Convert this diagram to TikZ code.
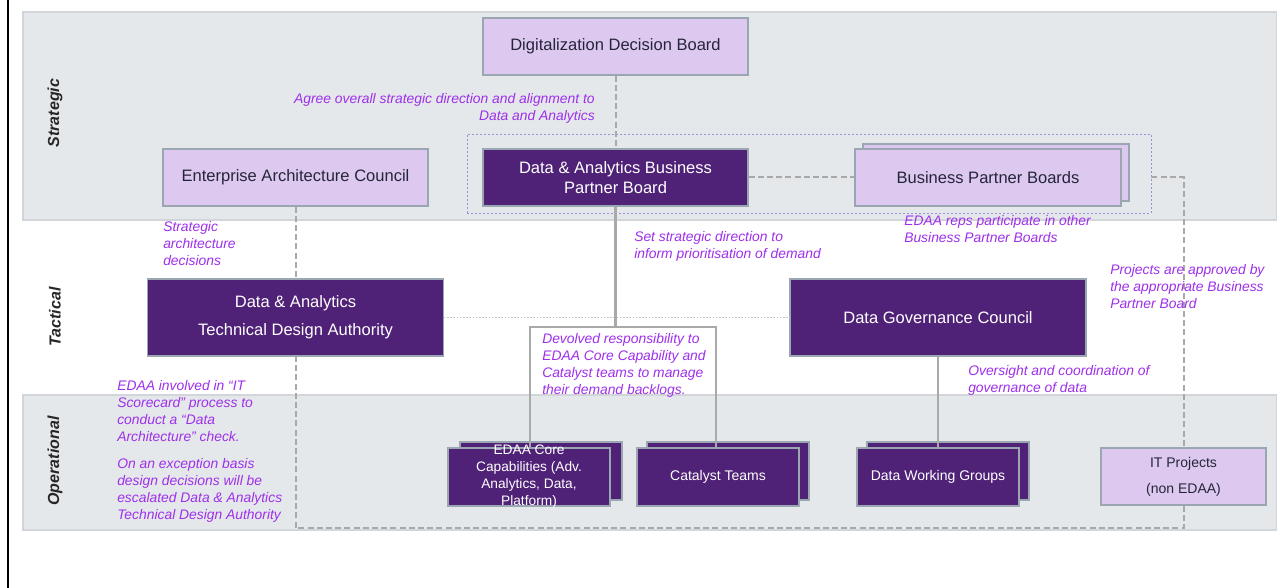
\documentclass[tikz,border=0pt]{standalone}
\usepackage{fontspec}
\setmainfont{Liberation Sans}
\definecolor{bandgray}{HTML}{E4E8EB}
\definecolor{bandline}{HTML}{D2D6DA}
\definecolor{plum}{HTML}{4F2177}
\definecolor{lavender}{HTML}{DDC9EF}
\definecolor{boxline}{HTML}{9AA6B2}
\definecolor{boxtext}{HTML}{25253A}
\definecolor{notecol}{HTML}{9E2FEA}
\definecolor{linkgray}{HTML}{A9A9A9}
\definecolor{groupline}{HTML}{9A90DC}
\definecolor{tiercol}{HTML}{262626}
\begin{document}
\begin{tikzpicture}[x=0.75pt,y=-0.75pt,
  box/.style={draw=boxline, line width=0.9pt, inner sep=0pt, align=center},
  lightbox/.style={box, fill=lavender, text=boxtext, font=\fontsize{12.4}{15}\selectfont},
  darkbox/.style={box, fill=plum, text=white, font=\fontsize{12.4}{15}\selectfont},
  bigbox/.style={minimum width=198.75pt, minimum height=42.75pt},
  wide/.style={minimum width=221.5pt, minimum height=57.75pt},
  opsbox/.style={darkbox, minimum width=121.5pt, minimum height=43.5pt, font=\fontsize{10.5}{12.75}\selectfont},
  note/.style={inner sep=0pt, align=left, text=notecol, font=\fontsize{10.4}{12.75}\selectfont\itshape},
  tier/.style={rotate=90, text=tiercol, font=\fontsize{12}{14}\selectfont\bfseries\itshape},
  dashlink/.style={draw=linkgray, line width=1.5pt, dash pattern=on 4.5pt off 2.4pt},
  solidlink/.style={draw=linkgray, line width=1.6pt},
  dotlink/.style={draw=linkgray!70, line width=1pt, dash pattern=on 1.2pt off 1.2pt},
  grouping/.style={draw=groupline, line width=0.6pt, dash pattern=on 1.5pt off 1.5pt}
]
\useasboundingbox (0,0) rectangle (1277,588);
\fill[white] (0,0) rectangle (1277,588);

% tier bands
\filldraw[fill=bandgray, draw=bandline, line width=0.8pt] (23,12) rectangle (1277,220);
\filldraw[fill=bandgray, draw=bandline, line width=0.8pt] (23,395) rectangle (1277,530);
\draw[black, line width=1.6pt] (8,0) -- (8,588);

\node[tier] (tstrat) at (55,113) {Strategic};
\node[tier] (ttact) at (55,317) {Tactical};
\node[tier] (toper) at (55,461) {Operational};

% grouping of partner boards
\node[grouping, minimum width=513pt, minimum height=59.25pt, inner sep=0pt] (bpgroup) at (809,173.5) {};

% strategic tier
\node[lightbox, bigbox] (ddb) at (615.5,46.5) {Digitalization Decision Board};
\node[lightbox, bigbox] (eac) at (295.5,177.5) {Enterprise Architecture Council};
\node[darkbox, bigbox] (dabpb) at (615.5,177.5) {Data \& Analytics Business\\Partner Board};
\node[lightbox, bigbox, minimum width=199.5pt] (bpbback) at (996,172.5) {};
\node[lightbox, bigbox, minimum width=199.5pt] (bpb) at (988,177.5) {Business Partner Boards};

% tactical tier
\node[darkbox, wide] (tda) at (295.5,317.5) {Data \& Analytics\\[6pt]Technical Design Authority};
\node[darkbox, wide, minimum width=222pt] (dgc) at (938,317.5) {Data Governance Council};

% operational tier
\node[opsbox] (coreback) at (541,471) {};
\node[opsbox, label={[align=center, text=white, font=\fontsize{10.3}{12.75}\selectfont]center:EDAA Core\\Capabilities (Adv.\\Analytics, Data,\\Platform)}] (core) at (529,477) {};
\node[opsbox] (catback) at (728,471) {};
\node[opsbox] (cat) at (718,477) {Catalyst Teams};
\node[opsbox] (dwgback) at (948,471) {};
\node[opsbox] (dwg) at (938,477) {Data Working Groups};

% connectors
\coordinate (devL) at (530,327);
\coordinate (devR) at (716,327);
\coordinate (loopB) at (1183.5,528);
\draw[dashlink] (ddb.south) -- (dabpb.north);
\draw[dashlink] (dabpb.east) -- (bpb.west);
\draw[dashlink] (eac.south) -- (tda.north);
\draw[dotlink] (tda.east) -- (dgc.west);
\draw[solidlink] (dabpb.south) -- (dabpb.south |- devL);
\draw[solidlink] (core.north -| devL) -- (devL) -- (devR) -- (cat.north -| devR);
\draw[solidlink] (dgc.south) -- (dwg.north);

\node[lightbox, minimum width=123.75pt, minimum height=42.75pt, font=\fontsize{10.5}{12.6}\selectfont] (itp) at (1183.5,476.5) {IT Projects\\[7pt](non EDAA)};
\draw[dashlink] (bpgroup.east |- bpb.east) -| (itp.north);
\draw[dashlink] (itp.south) -- (loopB) -| (tda.south);

% annotations
\node[note, align=right, anchor=north east] (nagree) at (595,93) {Agree overall strategic direction and alignment to\\Data and Analytics};
\node[note, anchor=north west] (narch) at (163,221) {Strategic\\architecture\\decisions};
\node[note, anchor=north west] (nreps) at (904,215) {EDAA reps participate in other\\Business Partner Boards};
\node[note, anchor=north west] (nset) at (634,231) {Set strategic direction to\\inform prioritisation of demand};
\node[note, anchor=north west] (nproj) at (1110,264) {Projects are approved by\\the appropriate Business\\Partner Board};
\node[note, anchor=north west] (ndev) at (542,333) {Devolved responsibility to\\EDAA Core Capability and\\Catalyst teams to manage\\their demand backlogs.};
\node[note, anchor=north west] (nover) at (968,365) {Oversight and coordination of\\governance of data};
\node[note, anchor=north west] (nscore) at (117,380) {EDAA involved in “IT\\Scorecard” process to\\conduct a “Data\\Architecture” check.};
\node[note, anchor=north west] (nexc) at (117,458) {On an exception basis\\design decisions will be\\escalated Data \& Analytics\\Technical Design Authority};
\end{tikzpicture}
\end{document}
